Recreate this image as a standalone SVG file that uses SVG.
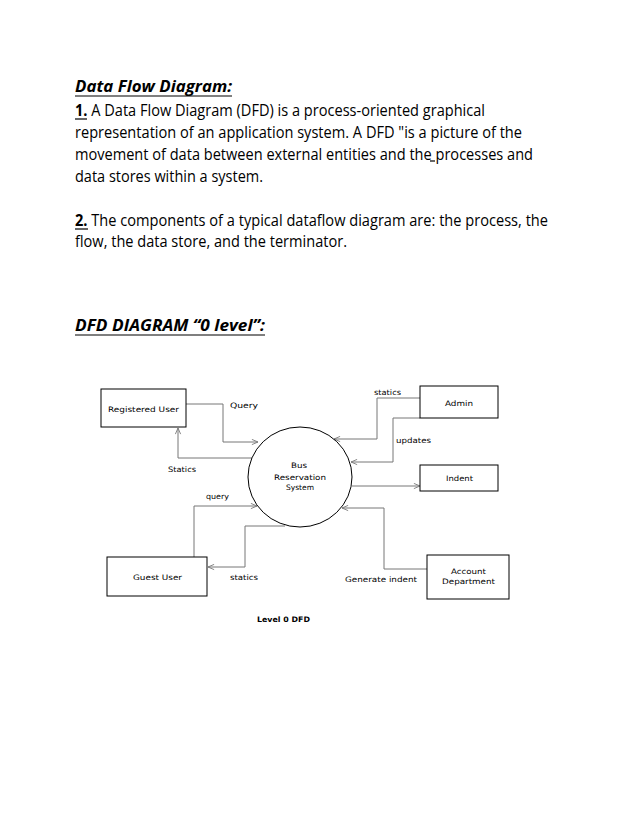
<svg xmlns="http://www.w3.org/2000/svg" width="638" height="826" viewBox="0 0 638 826">
<defs>
<marker id="arr" viewBox="0 0 8 8" refX="7.5" refY="4" markerWidth="7" markerHeight="7" markerUnits="userSpaceOnUse" orient="auto">
<path d="M0.5,1 L7.5,4 L0.5,7" fill="none" stroke="#777" stroke-width="1"/>
</marker>
<style>
.p{font-family:"Open Sans","Liberation Sans",sans-serif;font-size:15.5px;fill:#000}
.b{font-weight:bold}
.bi{font-weight:bold;font-style:italic;font-size:16.5px}
.ul{stroke:#000;stroke-width:1.2}
.box{fill:#fff;stroke:#000;stroke-width:1}
.lbl{font-family:"DejaVu Sans",Verdana,sans-serif;font-size:7.5px;fill:#000}
.c{fill:none;stroke:#777;stroke-width:1;marker-end:url(#arr)}
</style>
</defs>
<rect width="638" height="826" fill="#fff"/>

<g id="text-block">
<text class="p bi" x="75" y="92" textLength="157" lengthAdjust="spacingAndGlyphs">Data Flow Diagram:</text>
<line class="ul" x1="75" y1="96" x2="232" y2="96"/>
<text class="p" x="75" y="116" textLength="410" lengthAdjust="spacingAndGlyphs"><tspan class="b">1.</tspan> A Data Flow Diagram (DFD) is a process-oriented graphical</text>
<line class="ul" x1="75" y1="119" x2="87" y2="119"/>
<text class="p" x="75" y="138" textLength="447" lengthAdjust="spacingAndGlyphs">representation of an application system. A DFD "is a picture of the</text>
<text class="p" x="75" y="160" textLength="458" lengthAdjust="spacingAndGlyphs">movement of data between external entities and the processes and</text>
<line class="ul" x1="430" y1="161" x2="435" y2="161"/>
<text class="p" x="75" y="182" textLength="188" lengthAdjust="spacingAndGlyphs">data stores within a system.</text>
<text class="p" x="75" y="226" textLength="473" lengthAdjust="spacingAndGlyphs"><tspan class="b">2.</tspan> The components of a typical dataflow diagram are: the process, the</text>
<line class="ul" x1="75" y1="229" x2="88" y2="229"/>
<text class="p" x="75" y="247" textLength="272" lengthAdjust="spacingAndGlyphs">flow, the data store, and the terminator.</text>
<text class="p bi" x="75" y="331" textLength="190" lengthAdjust="spacingAndGlyphs">DFD DIAGRAM “0 level”:</text>
<line class="ul" x1="75" y1="335" x2="265" y2="335"/>
</g>

<g id="connectors">
<path class="c" d="M186,404 H223 V442 H258"/>
<path class="c" d="M252,458 H178 V428"/>
<path class="c" d="M194,557 V506 H257"/>
<path class="c" d="M285,526 H245 V567 H208"/>
<path class="c" d="M420,398 H377 V439 H334"/>
<path class="c" d="M420,418 H393 V462 H351"/>
<path class="c" d="M352,486 H420"/>
<path class="c" d="M427,569 H384 V508 H342"/>
<text class="lbl" x="230" y="408" textLength="28" lengthAdjust="spacingAndGlyphs">Query</text>
<text class="lbl" x="168" y="472" textLength="28" lengthAdjust="spacingAndGlyphs">Statics</text>
<text class="lbl" x="206" y="499" textLength="23" lengthAdjust="spacingAndGlyphs">query</text>
<text class="lbl" x="230" y="580" textLength="28" lengthAdjust="spacingAndGlyphs">statics</text>
<text class="lbl" x="374" y="395" textLength="27" lengthAdjust="spacingAndGlyphs">statics</text>
<text class="lbl" x="396" y="443" textLength="35" lengthAdjust="spacingAndGlyphs">updates</text>
<text class="lbl" x="345" y="582" textLength="72" lengthAdjust="spacingAndGlyphs">Generate indent</text>
</g>

<g id="registered-user">
<rect class="box" x="101" y="389" width="85" height="38"/>
<text class="lbl" x="108" y="412" textLength="71" lengthAdjust="spacingAndGlyphs">Registered User</text>
</g>

<g id="bus-reservation-system">
<ellipse cx="300" cy="477" rx="52" ry="50" fill="none" stroke="#000" stroke-width="1"/>
<text class="lbl" x="291" y="468" textLength="16" lengthAdjust="spacingAndGlyphs">Bus</text>
<text class="lbl" x="274" y="480" textLength="52" lengthAdjust="spacingAndGlyphs">Reservation</text>
<text class="lbl" x="286" y="490" textLength="28" lengthAdjust="spacingAndGlyphs">System</text>
</g>

<g id="admin">
<rect class="box" x="420" y="386" width="78" height="32"/>
<text class="lbl" x="445" y="406" textLength="28" lengthAdjust="spacingAndGlyphs">Admin</text>
</g>

<g id="indent">
<rect class="box" x="420" y="465" width="78" height="26"/>
<text class="lbl" x="446" y="481" textLength="27" lengthAdjust="spacingAndGlyphs">Indent</text>
</g>

<g id="guest-user">
<rect class="box" x="107" y="557" width="100" height="39"/>
<text class="lbl" x="133" y="580" textLength="49" lengthAdjust="spacingAndGlyphs">Guest User</text>
</g>

<g id="account-department">
<rect class="box" x="427" y="555" width="82" height="44"/>
<text class="lbl" x="451" y="574" textLength="35" lengthAdjust="spacingAndGlyphs">Account</text>
<text class="lbl" x="442" y="584" textLength="53" lengthAdjust="spacingAndGlyphs">Department</text>
</g>

<g id="caption">
<text class="lbl" x="257" y="622" font-weight="bold" textLength="53" lengthAdjust="spacingAndGlyphs">Level 0 DFD</text>
</g>
</svg>
